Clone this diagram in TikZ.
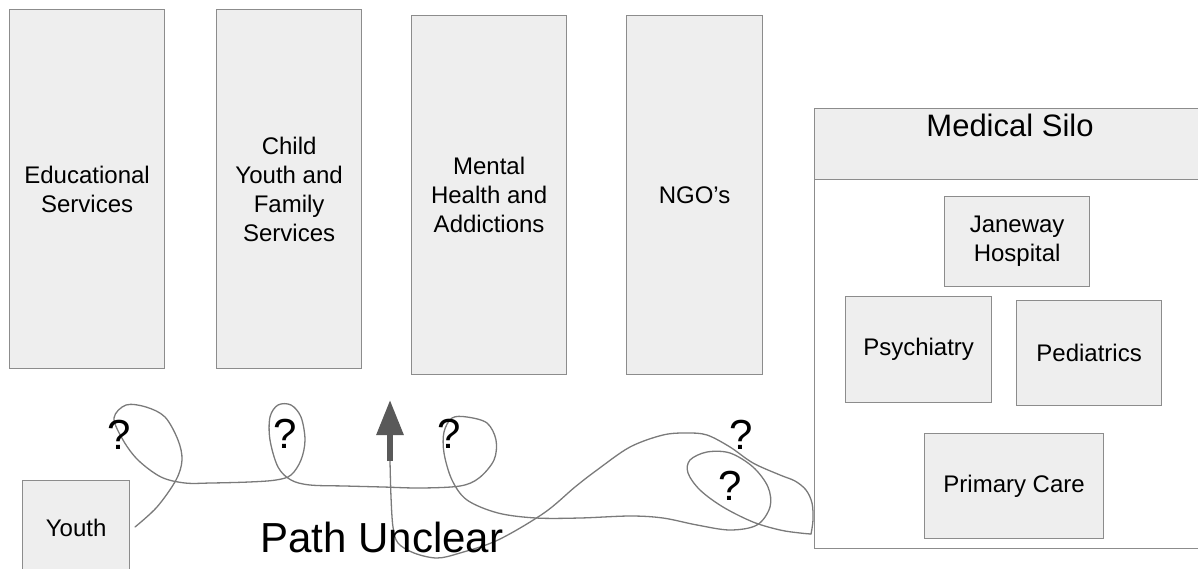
\documentclass[tikz,border=0pt]{standalone}
\usepackage{fontspec}
\setmainfont{Liberation Sans}
\usetikzlibrary{arrows.meta}
\definecolor{boxfill}{HTML}{EEEEEE}
\definecolor{boxline}{HTML}{8C8C8C}
\definecolor{pathcol}{HTML}{7A7A7A}
\definecolor{arrcol}{HTML}{595959}
\tikzset{
  svcbox/.style={draw=boxline, fill=boxfill, line width=1.2pt, anchor=north west, inner sep=0pt,
    align=center, font=\fontsize{24}{29}\selectfont},
  qmark/.style={font=\fontsize{42}{42}\selectfont, inner sep=0pt},
  wander/.style={draw=pathcol, line width=1.3pt, line cap=round, line join=round},
}
\begin{document}
\begin{tikzpicture}[x=1pt,y=-1pt]
\useasboundingbox (0,0) rectangle (1198,568);
% silos
\node[svcbox, minimum width=155pt, minimum height=359pt] (edu) at (9,9) {Educational\\Services};
\node[svcbox, minimum width=145pt, minimum height=359pt] (cyfs) at (216,9) {Child\\Youth and\\Family\\Services};
\node[svcbox, minimum width=155pt, minimum height=359pt] (mha) at (411,15) {Mental\\Health and\\Addictions};
\node[svcbox, minimum width=136pt, minimum height=359pt] (ngo) at (626,15) {NGO’s};
% medical silo
\node[svcbox, fill=white, minimum width=400pt, minimum height=369pt] (medbody) at (814,179) {};
\node[svcbox, minimum width=400pt, minimum height=71pt] (medhead) at (814,108) {};
\node[font=\fontsize{31}{31}\selectfont, inner sep=0pt] (medlabel) at (1010,125) {Medical Silo};
\node[svcbox, minimum width=145pt, minimum height=90pt] (jane) at (944,196) {Janeway\\Hospital};
\node[svcbox, minimum width=146pt, minimum height=106pt] (psy) at (845,296) {Psychiatry};
\node[svcbox, minimum width=145pt, minimum height=105pt] (ped) at (1016,300) {Pediatrics};
\node[svcbox, minimum width=179pt, minimum height=105pt] (pc) at (924,433) {Primary Care};
% youth
\node[svcbox, minimum width=107pt, minimum height=95pt] (youth) at (22,480) {Youth};
% path
\coordinate (pstart) at (135,527);
\coordinate (corner) at (811,534);
\coordinate (abase) at (390,461);
\coordinate (atip) at (390,400);
\draw[wander] plot[smooth, tension=0.55] coordinates {
 (pstart) (157,507) (176,480) (182,460) (178,440) (165,417) (146,407) (126,405) (114,418)
 (123,440) (138,460) (161,477) (185,483) (211,483) (249,482) (276,480) (291,475) (301,460)
 (305,440) (301,417) (291,405) (278,405) (270,417) (270,440) (278,467) (291,480) (310,485)
 (345,486) (383,487) (421,488) (460,486) (479,478) (494,460) (496,440) (487,423) (467,417)
 (452,418) (444,432) (444,453) (452,480) (467,500) (498,513) (536,518) (580,518) (630,516)
 (663,518) (697,525) (730,530) (757,525) (770,507) (768,487) (753,467) (730,453) (707,452)
 (690,460) (688,473) (700,490) (723,507) (753,522) (780,530) (800,533) (corner)};
\draw[wander] plot[smooth, tension=0.55] coordinates {
 (corner) (813,520) (812,503) (806,490) (795,481) (780,475) (753,463) (730,447) (707,435)
 (687,433) (663,435) (630,447) (597,470) (575,487) (544,513) (498,540) (460,553) (437,558)
 (414,553) (398,543) (393,527) (391,497) (abase)};
\draw[arrcol, line width=6pt, -{Triangle[length=35pt,width=26pt]}] (abase) -- (atip);
% labels
\node[font=\fontsize{42}{42}\selectfont, inner sep=0pt] (unclear) at (382,537) {Path Unclear};
\node[qmark] (q1) at (119,435) {?};
\node[qmark] (q2) at (285,434) {?};
\node[qmark] (q3) at (449,434) {?};
\node[qmark] (q4) at (741,435) {?};
\node[qmark] (q5) at (730,486) {?};
\end{tikzpicture}
\end{document}
